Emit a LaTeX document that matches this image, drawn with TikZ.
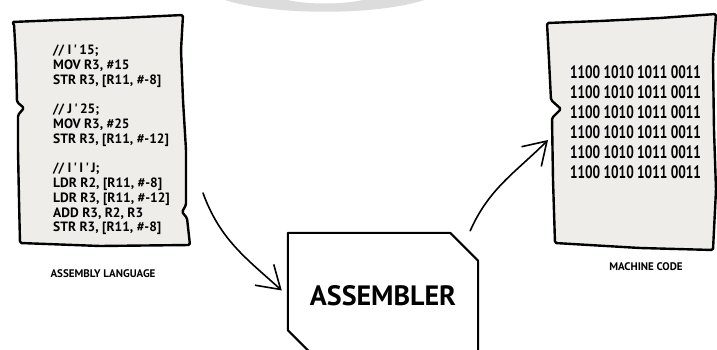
\documentclass[tikz,border=0pt]{standalone}
\usepackage{fontspec}
\usepackage{tikz}
\usetikzlibrary{arrows.meta,positioning}
\newfontfamily\handfont{PT Sans}
\newfontfamily\bitfont{PT Sans}[FakeStretch=0.74]
\definecolor{paper}{HTML}{EEEDEA}
\definecolor{ringgray}{HTML}{DCDCDC}

\begin{document}
\begin{tikzpicture}[x=1pt,y=-1pt,
  sheet/.style={fill=paper,draw=black,line width=2.4pt,line join=round,rounded corners=1.5pt},
  flow/.style={line width=1.6pt,line cap=round,-{Straight Barb[length=22pt,width=28pt]}},
  caption/.style={font=\handfont\bfseries\fontsize{11}{13}\selectfont}]
 \clip (0,0) rectangle (717,350);
 \fill[white] (0,0) rectangle (717,350);
 \fill[ringgray] (222,-1) .. controls (270,16) and (380,16) .. (427,-1)
  -- (367,-1) .. controls (345,5) and (305,5) .. (283,-1) -- cycle;
 \begin{scope}
  \draw[sheet] (12,22) -- (60,20) -- (120,18) -- (183,15) -- (181,50) -- (183,100)
   -- (186,150) -- (186,205) -- (182,212) -- (187,218) -- (190,245) -- (100,246)
   -- (20,243) -- (19,200) -- (18,150) -- (18,115) -- (24,108) -- (17,102)
   -- (16,60) -- (14,24) -- cycle;
  \node[anchor=north west,inner sep=0,align=left,
   font=\handfont\bfseries\fontsize{13.5}{14.75}\selectfont] (asmcode) at (53,45)
   {// I\,\textquotesingle\,15;\\ MOV R3, \#15\\ STR R3, [R11, \#-8]\\[14.75pt]
    // J\,\textquotesingle\,25;\\ MOV R3, \#25\\ STR R3, [R11, \#-12]\\[14.75pt]
    // I\,\textquotesingle\,I\,\textquotesingle\,J;\\ LDR R2, [R11, \#-8]\\
    LDR R3, [R11, \#-12]\\ ADD R3, R2, R3\\ STR R3, [R11, \#-8]};
  \node[caption] (asmlabel) at (103,274) {ASSEMBLY LANGUAGE};
 \end{scope}
 \begin{scope}
  \draw[sheet] (547,23) -- (600,21) -- (660,18) -- (716,14) -- (713,60) -- (714,130)
   -- (716,190) -- (713,250) -- (640,248) -- (555,243) -- (553,180) -- (552,118)
   -- (561,109) -- (551,100) -- (549,60) -- cycle;
  \node[anchor=north,inner sep=0,align=left,
   font=\bitfont\bfseries\fontsize{18}{20}\selectfont] (bincode) at (635.5,65)
   {1100 1010 1011 0011\\ 1100 1010 1011 0011\\ 1100 1010 1011 0011\\
    1100 1010 1011 0011\\ 1100 1010 1011 0011\\ 1100 1010 1011 0011};
  \node[caption] (binlabel) at (646,267) {MACHINE CODE};
 \end{scope}
 \node[minimum width=190pt,minimum height=125pt,
  font=\handfont\bfseries\fontsize{28}{30}\selectfont] (asm) at (383,295.5) {ASSEMBLER};
 \draw[line width=2pt,line join=round] (asm.north west) -- ([xshift=-28pt]asm.north east)
  -- ([yshift=-28pt]asm.north east) -- (asm.south east) -- ([xshift=28pt]asm.south west)
  -- ([yshift=28pt]asm.south west) -- cycle;
 \coordinate (src) at (203,193);
 \coordinate (dst) at (548,140);
 \draw[flow] (src) to[out=-70,in=138] ([xshift=-6pt,yshift=5pt]asm.west);
 \draw[flow] ([xshift=-8pt,yshift=2pt]asm.north east) to[out=66,in=225] (dst);
\end{tikzpicture}
\end{document}
